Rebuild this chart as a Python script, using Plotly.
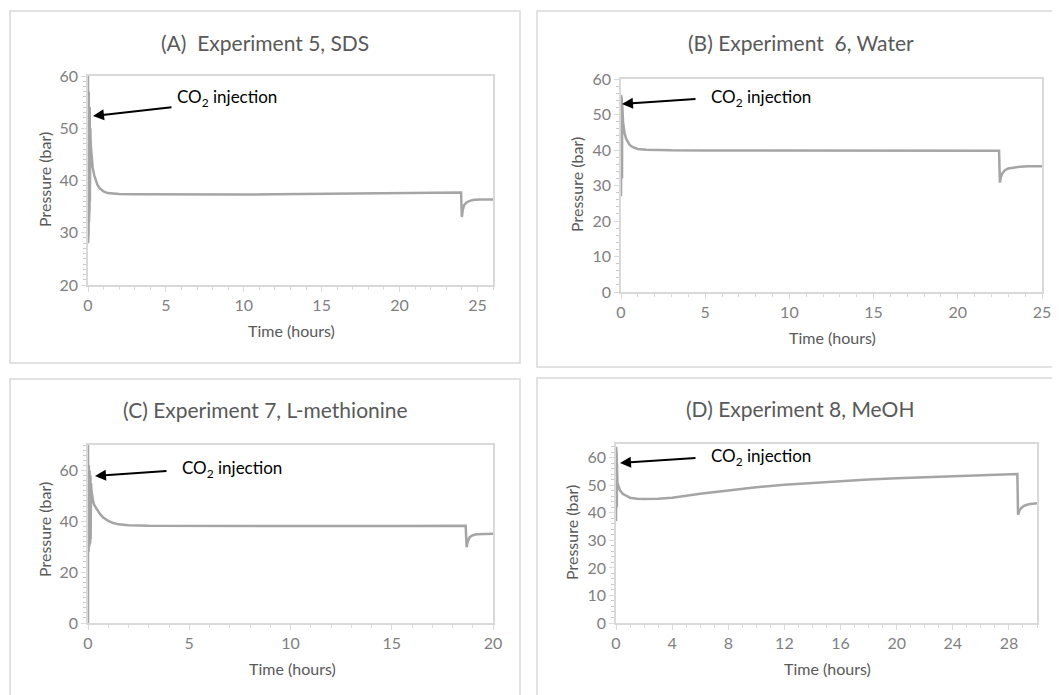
import plotly.graph_objects as go

W, H = 1060, 695
OFF = 8  # page body margin in the browser

# ---------------- data ----------------
A_time = [0, 0.005, 0.01, 0.02, 0.03, 0.04, 0.05, 0.06, 0.07, 0.08, 0.09, 0.10, 0.11, 0.12, 0.13, 0.14,
          0.15, 0.17, 0.2, 0.25, 0.3, 0.4, 0.5, 0.6, 0.75, 1.0, 1.25, 1.5, 2, 3, 5, 8, 10, 12, 15, 18, 20,
          22, 23.95, 24.0, 24.05, 24.15, 24.3, 24.5, 24.8, 25.2, 26]
A_press = [60, 28, 58, 29, 57, 30, 57, 32, 56, 34, 55, 35, 54, 36, 52, 38,
           50, 47, 45.5, 44, 42.5, 41.0, 40.0, 39.2, 38.5, 37.9, 37.6, 37.5, 37.4, 37.35, 37.3, 37.3, 37.3,
           37.35, 37.45, 37.55, 37.6, 37.65, 37.7, 33.0, 34.3, 35.3, 35.8, 36.1, 36.3, 36.35, 36.35]

B_time = [0, 0.01, 0.02, 0.03, 0.04, 0.05, 0.06, 0.07, 0.08, 0.09, 0.1, 0.12, 0.15, 0.2, 0.3, 0.4, 0.5,
          0.7, 1.0, 1.5, 2, 3, 5, 10, 15, 20, 22.45, 22.5, 22.55, 22.65, 22.8, 23.0, 23.3, 23.7, 24.2, 25]
B_press = [27, 55.5, 28, 55, 30, 54, 32, 53, 35, 52, 50, 48, 46.5, 45, 43.2, 42.2, 41.5,
           40.8, 40.3, 40.1, 40, 39.9, 39.85, 39.8, 39.8, 39.8, 39.8, 30.8, 32.2, 33.5, 34.3, 34.8, 35.1,
           35.3, 35.4, 35.4]

C_time = [0, 0, 0.01, 0.02, 0.03, 0.04, 0.05, 0.06, 0.07, 0.08, 0.09, 0.1, 0.11, 0.12, 0.13, 0.14, 0.15,
          0.17, 0.2, 0.25, 0.3, 0.4, 0.5, 0.6, 0.75, 1.0, 1.25, 1.5, 2, 3, 5, 10, 15, 18.65, 18.7, 18.75,
          18.85, 19.0, 19.2, 19.5, 20]
C_press = [0, 70, 27, 64, 28, 62, 30, 61, 31, 60, 31, 59, 32, 58, 33, 57, 55,
           52, 50, 48, 46.5, 45, 44, 42.8, 41.5, 40.2, 39.3, 38.8, 38.4, 38.2, 38.1, 38.1, 38.15, 38.2,
           29.8, 32, 33.8, 34.5, 34.9, 35.0, 35.1]

D_time = [0, 0.01, 0.02, 0.03, 0.04, 0.05, 0.06, 0.07, 0.08, 0.1, 0.15, 0.2, 0.3, 0.5, 0.75, 1.0, 1.5, 2,
          3, 4, 6, 8, 10, 12, 14, 16, 18, 20, 22, 24, 26, 28.6, 28.65, 28.75, 28.9, 29.1, 29.4, 29.7, 30]
D_press = [37, 64, 38, 63, 40, 61, 42, 58, 50, 51, 50, 49, 48, 46.8, 46, 45.5, 45.1, 45.0,
           45.1, 45.5, 46.9, 48.2, 49.3, 50.2, 50.9, 51.5, 52.1, 52.6, 53.0, 53.4, 53.7, 54.1, 39.3,
           40.8, 41.9, 42.6, 43.1, 43.4, 43.5]

titles = ["(A)  Experiment 5, SDS", "(B) Experiment  6, Water",
          "(C) Experiment 7, L-methionine", "(D) Experiment 8, MeOH"]
x_ranges = [[0, 26], [0, 25], [0, 20], [0, 30]]
y_ranges = [[20, 60], [0, 60], [0, 70], [0, 65]]
x_dticks = [5, 5, 5, 4]
y_dticks = [10, 10, 20, 10]
x_minor = [1, 1, 1, 1]
y_minor = [1, 2, 2, 2]
series = [(A_time, A_press), (B_time, B_press), (C_time, C_press), (D_time, D_press)]

# ---------------- layout geometry (pixels) ----------------
plot_boxes = [(88, 493, 76, 285), (621, 1042, 79, 292), (88, 493, 445, 623), (616, 1037, 444, 623)]
panel_boxes = [(10, 520, 11, 363), (537, 1075, 11, 367), (10, 520, 379, 710), (537, 1075, 378, 710)]
title_pos = [(265, 42), (801, 42), (265, 409), (800, 408)]
ylab_pos = [(44, 180), (576, 185), (44, 530), (571, 533)]
xlab_pos = [(291, 331), (832, 338), (292, 668), (827, 668)]
# arrow: tip (px), tail (px), text left (px)
arrows = [((93, 116), (173, 107), (175, 98)),
          ((622, 104), (697, 99), (709, 98)),
          ((95, 476), (168, 471), (180, 469)),
          ((620, 463), (697, 458), (709, 457))]

FONT = "Lato, 'Open Sans', sans-serif"
GRID = "#d9d9d9"
TXT = "#595959"
TICK = "#7f7f7f"
LINE = "#a5a5a5"

def px(x):
    return (x - OFF) / W

def py(y):
    return 1 - (y - OFF) / H

fig = go.Figure()
layout = dict(width=W, height=H, margin=dict(l=0, r=0, t=0, b=0, autoexpand=False),
              paper_bgcolor="white", plot_bgcolor="white", showlegend=False,
              font=dict(family=FONT, color=TXT))
shapes = []
annotations = []

for i in range(4):
    sfx = "" if i == 0 else str(i + 1)
    t, p = series[i]
    fig.add_trace(go.Scatter(x=t, y=p, mode="lines", line=dict(color=LINE, width=2.5),
                             xaxis="x" + sfx, yaxis="y" + sfx, hoverinfo="skip"))
    x0, x1, y0, y1 = plot_boxes[i]
    layout["xaxis" + sfx] = dict(
        domain=[px(x0), px(x1)], range=x_ranges[i], anchor="y" + sfx, dtick=x_dticks[i], tick0=0,
        showgrid=False, zeroline=False, showline=True, linecolor=GRID, linewidth=1.5, mirror=True,
        ticks="outside", ticklen=5, tickcolor=GRID, tickwidth=1, automargin=False,
        tickfont=dict(family=FONT, size=16, color=TICK),
        minor=dict(dtick=x_minor[i], tick0=0, ticks="outside", ticklen=3, tickcolor=GRID),
        fixedrange=True)
    layout["yaxis" + sfx] = dict(
        domain=[py(y1), py(y0)], range=y_ranges[i], anchor="x" + sfx, dtick=y_dticks[i], tick0=0,
        showgrid=False, zeroline=False, showline=True, linecolor=GRID, linewidth=1.5, mirror=True,
        ticks="outside", ticklen=5, tickcolor=GRID, tickwidth=1, automargin=False,
        tickfont=dict(family=FONT, size=16, color=TICK),
        minor=dict(dtick=y_minor[i], tick0=0, ticks="outside", ticklen=3, tickcolor="#c8c8c8"),
        fixedrange=True)

    bx0, bx1, by0, by1 = panel_boxes[i]
    shapes.append(dict(type="rect", xref="paper", yref="paper", x0=px(bx0), x1=px(bx1),
                       y0=py(by1), y1=py(by0), line=dict(color=GRID, width=1.5),
                       fillcolor="rgba(0,0,0,0)", layer="below"))

    tx, ty = title_pos[i]
    annotations.append(dict(text=titles[i], xref="paper", yref="paper", x=px(tx), y=py(ty),
                            xanchor="center", yanchor="middle", showarrow=False,
                            font=dict(family=FONT, size=21, color=TXT)))
    lx, ly = ylab_pos[i]
    annotations.append(dict(text="Pressure (bar)", xref="paper", yref="paper", x=px(lx), y=py(ly),
                            xanchor="center", yanchor="middle", showarrow=False, textangle=-90,
                            font=dict(family=FONT, size=16, color=TXT)))
    lx, ly = xlab_pos[i]
    annotations.append(dict(text="Time (hours)", xref="paper", yref="paper", x=px(lx), y=py(ly),
                            xanchor="center", yanchor="middle", showarrow=False,
                            font=dict(family=FONT, size=16, color=TXT)))
    (tipx, tipy), (tlx, tly), (txx, txy) = arrows[i]
    annotations.append(dict(text="", xref="paper", yref="paper", x=px(tipx), y=py(tipy),
                            ax=tlx - tipx, ay=tly - tipy, showarrow=True, arrowhead=2,
                            arrowsize=1.1, arrowwidth=2, arrowcolor="black"))
    annotations.append(dict(text="CO<sub>2</sub> injection", xref="paper", yref="paper",
                            x=px(txx), y=py(txy), xanchor="left", yanchor="middle", showarrow=False,
                            font=dict(family=FONT, size=17, color="black")))

layout["shapes"] = shapes
layout["annotations"] = annotations
fig.update_layout(**layout)
fig.write_html("out.html")
